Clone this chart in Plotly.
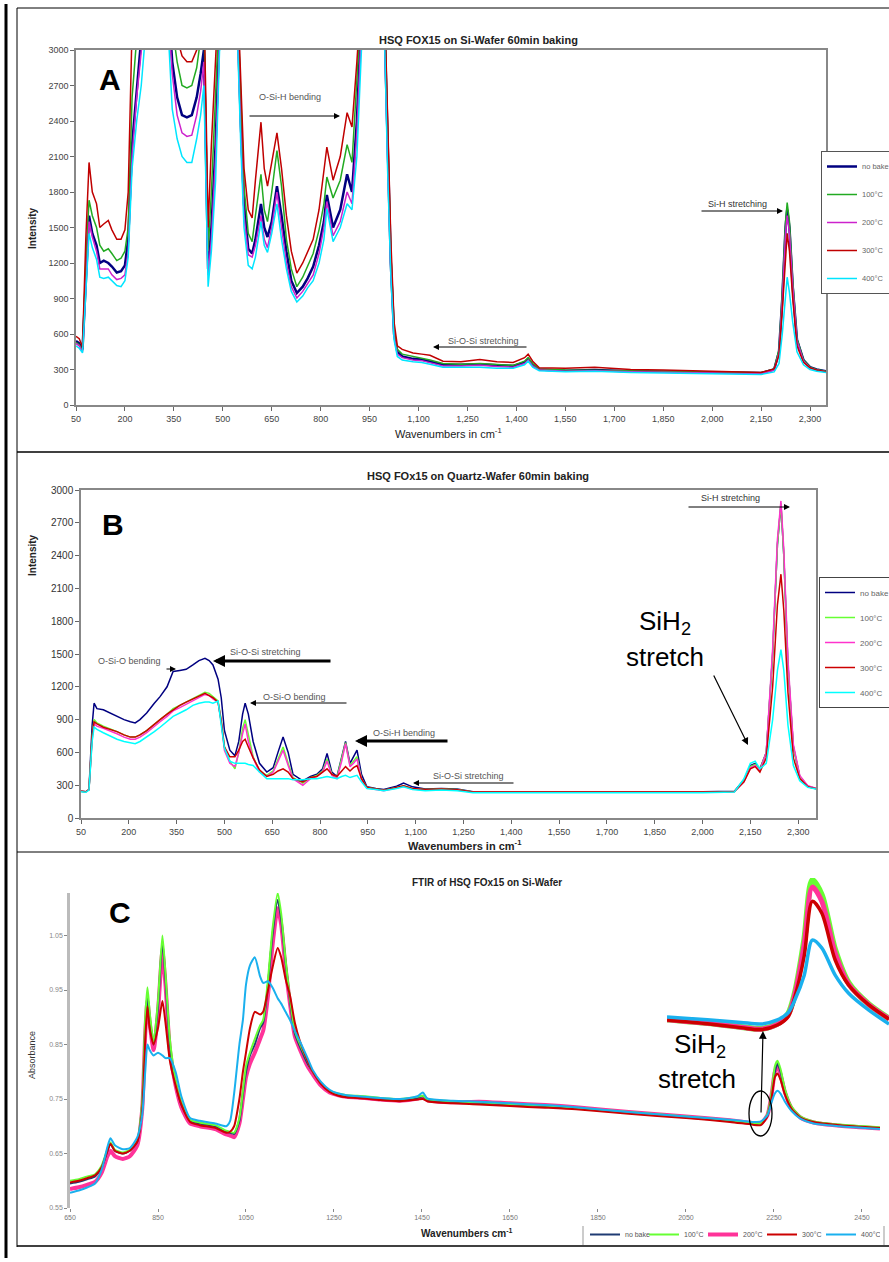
import plotly.graph_objects as go

W, H = 889, 1262

# ---------------- DATA ----------------
series_names = ["no bake", "100°C", "200°C", "300°C", "400°C"]

# Panel A : HSQ FOX15 on Si-Wafer (Raman intensity)
a_wn = [50, 60, 70, 80, 90, 100, 113, 123, 135, 149, 160, 175, 188, 200, 210, 222, 236, 250, 265, 330,
        345, 360, 375, 390, 405, 420, 432, 442, 448, 455, 465, 478, 490, 545, 555, 565, 578, 590, 600, 617,
        627, 637, 650, 666, 680, 695, 710, 727, 745, 760, 777, 795, 810, 819, 838, 860, 881, 896, 911, 925,
        995, 1005, 1015, 1025, 1035, 1050, 1083, 1110, 1135, 1175, 1230, 1288, 1340, 1390, 1425, 1436, 1450, 1470, 1550, 1640,
        1750, 1850, 1950, 2050, 2150, 2190, 2205, 2215, 2225, 2230, 2237, 2247, 2260, 2280, 2300, 2320, 2349]
a_nobake = [540, 520, 470, 1100, 1600, 1450, 1350, 1200, 1220, 1200, 1170, 1120, 1130, 1180, 1400, 2200, 2700, 3100, 3500, 3500,
            2900, 2600, 2450, 2430, 2450, 2600, 2800, 3000, 2200, 1150, 1500, 2200, 3200, 3300, 2400, 1700, 1320, 1280, 1400, 1700,
            1500, 1420, 1550, 1850, 1600, 1300, 1050, 946, 1000, 1070, 1170, 1350, 1550, 1775, 1500, 1650, 1950, 1800, 2400, 3300,
            3300, 2200, 1200, 600, 450, 410, 390, 385, 370, 340, 340, 345, 335, 330, 360, 390, 340, 300, 290, 295,
            285, 280, 275, 270, 270, 300, 450, 900, 1500, 1650, 1500, 1000, 550, 380, 320, 300, 285]
a_100 = [530, 510, 460, 1200, 1730, 1600, 1500, 1350, 1300, 1320, 1280, 1220, 1240, 1300, 1500, 2600, 3100, 3400, 3600, 3600,
         3200, 2900, 2700, 2680, 2700, 2850, 3100, 3300, 2400, 1300, 1800, 2500, 3400, 3400, 2600, 1850, 1450, 1380, 1600, 1950,
         1650, 1550, 1800, 2150, 1850, 1400, 1150, 1000, 1080, 1170, 1280, 1480, 1700, 1927, 1750, 1900, 2200, 2050, 2700, 3400,
         3400, 2300, 1300, 650, 470, 430, 410, 400, 380, 350, 345, 350, 340, 335, 370, 400, 350, 305, 295, 295,
         290, 285, 280, 275, 272, 305, 470, 950, 1550, 1710, 1550, 1050, 560, 380, 320, 300, 285]
a_200 = [520, 500, 450, 1050, 1550, 1420, 1300, 1150, 1150, 1150, 1100, 1060, 1070, 1100, 1300, 2100, 2600, 3000, 3400, 3400,
         2800, 2450, 2300, 2270, 2280, 2450, 2650, 2900, 2100, 1100, 1400, 2100, 3100, 3200, 2300, 1600, 1270, 1250, 1350, 1600,
         1400, 1330, 1500, 1800, 1500, 1200, 1000, 904, 960, 1030, 1100, 1280, 1500, 1720, 1430, 1550, 1800, 1700, 2300, 3200,
         3200, 2100, 1150, 580, 430, 400, 380, 375, 360, 330, 330, 335, 325, 320, 350, 380, 330, 295, 285, 290,
         280, 275, 270, 265, 265, 295, 440, 880, 1450, 1600, 1450, 1000, 540, 370, 315, 295, 280]
a_300 = [580, 560, 490, 1400, 2050, 1800, 1700, 1500, 1530, 1560, 1480, 1400, 1400, 1480, 1800, 3200, 3500, 3600, 3700, 3700,
         3400, 3100, 2950, 2900, 2900, 3000, 3300, 3400, 2600, 1500, 2200, 3000, 3600, 3500, 2800, 2000, 1650, 1580, 1900, 2390,
         2000, 1850, 2050, 2300, 2000, 1600, 1300, 1115, 1200, 1300, 1400, 1650, 2000, 2180, 1900, 2100, 2470, 2350, 2900, 3500,
         3500, 2400, 1400, 700, 500, 470, 440, 430, 420, 370, 365, 385, 365, 360, 400, 430, 370, 315, 310, 320,
         300, 295, 290, 280, 275, 305, 420, 800, 1300, 1450, 1300, 900, 500, 360, 315, 295, 280]
a_400 = [500, 480, 440, 1000, 1450, 1330, 1230, 1080, 1070, 1080, 1050, 1010, 1000, 1050, 1250, 2000, 2400, 2700, 3200, 3300,
         2500, 2250, 2100, 2050, 2050, 2250, 2450, 2700, 1900, 1000, 1300, 1900, 3000, 3100, 2200, 1500, 1180, 1150, 1250, 1550,
         1350, 1290, 1450, 1700, 1400, 1150, 960, 870, 920, 990, 1050, 1200, 1400, 1660, 1380, 1500, 1700, 1650, 2100, 3000,
         3200, 2000, 1100, 550, 410, 380, 365, 360, 345, 320, 320, 320, 310, 310, 340, 370, 320, 290, 280, 285,
         275, 270, 265, 260, 258, 280, 350, 600, 950, 1080, 950, 700, 450, 340, 300, 285, 275]

# Panel B : HSQ FOx15 on Quartz-Wafer (Raman intensity)
b_wn = [50, 65, 75, 85, 91, 100, 120, 140, 163, 185, 205, 220, 235, 256, 280, 298, 320, 339, 360, 380,
        401, 420, 439, 452, 464, 480, 490, 500, 517, 533, 545, 557, 565, 575, 590, 610, 633, 653, 668, 684,
        700, 715, 746, 770, 790, 808, 822, 837, 853, 868, 880, 894, 905, 916, 930, 947, 975, 1000, 1040, 1062,
        1090, 1130, 1180, 1230, 1280, 1400, 1550, 1700, 1850, 2000, 2100, 2130, 2150, 2165, 2180, 2200, 2220, 2235, 2246, 2255,
        2268, 2285, 2305, 2330, 2356]
b_nobake = [245, 240, 260, 850, 1050, 1000, 990, 960, 930, 900, 880, 870, 900, 960, 1050, 1110, 1200, 1340, 1350, 1360,
            1400, 1440, 1460, 1440, 1400, 1270, 1100, 800, 620, 570, 700, 950, 1050, 950, 700, 500, 420, 460, 600, 740,
            600, 400, 340, 380, 400, 450, 590, 420, 380, 550, 700, 500, 560, 620, 400, 285, 270, 260, 290, 320,
            285, 265, 270, 265, 240, 240, 238, 240, 238, 240, 245, 350, 480, 500, 450, 600, 1500, 2500, 2870, 2400,
            1400, 650, 380, 290, 270]
b_100 = [245, 240, 260, 750, 900, 870, 840, 820, 790, 760, 740, 740, 760, 800, 860, 900, 950, 1000, 1030, 1060,
         1090, 1120, 1150, 1140, 1110, 1070, 900, 650, 520, 450, 600, 820, 900, 750, 560, 430, 390, 430, 540, 650,
         500, 370, 320, 370, 390, 430, 540, 400, 370, 540, 690, 480, 520, 560, 360, 280, 265, 255, 280, 295,
         270, 260, 265, 260, 238, 238, 236, 238, 236, 238, 243, 340, 470, 490, 440, 600, 1500, 2500, 2880, 2400,
         1400, 650, 380, 290, 270]
b_200 = [245, 240, 260, 720, 860, 840, 820, 800, 770, 740, 720, 720, 740, 780, 840, 880, 930, 980, 1010, 1040,
         1070, 1100, 1130, 1120, 1090, 1060, 880, 620, 500, 470, 600, 770, 860, 700, 550, 420, 380, 420, 520, 620,
         480, 360, 300, 360, 380, 420, 520, 390, 360, 520, 680, 470, 500, 540, 350, 275, 260, 250, 275, 290,
         265, 255, 260, 255, 235, 235, 233, 235, 233, 235, 240, 330, 460, 480, 430, 600, 1550, 2550, 2900, 2450,
         1450, 670, 390, 295, 272]
b_300 = [245, 240, 260, 750, 880, 860, 830, 810, 790, 760, 740, 740, 760, 800, 860, 900, 950, 990, 1030, 1060,
         1090, 1120, 1140, 1120, 1100, 1060, 880, 650, 560, 560, 620, 700, 720, 650, 550, 440, 380, 400, 430, 450,
         420, 360, 330, 370, 380, 420, 450, 400, 380, 430, 470, 430, 460, 480, 360, 280, 265, 255, 280, 295,
         270, 260, 265, 258, 238, 238, 236, 238, 236, 238, 243, 330, 450, 470, 420, 550, 1200, 1950, 2230, 1900,
         1150, 550, 360, 285, 268]
b_400 = [240, 235, 255, 700, 830, 810, 780, 750, 720, 700, 690, 680, 700, 740, 790, 830, 880, 930, 960, 990,
         1030, 1050, 1060, 1060, 1050, 1070, 850, 640, 520, 500, 500, 500, 500, 490, 480, 420, 360, 360, 360, 360,
         360, 350, 350, 360, 360, 370, 380, 370, 360, 380, 390, 370, 380, 390, 330, 270, 260, 250, 270, 285,
         260, 250, 255, 250, 232, 232, 230, 232, 230, 232, 238, 360, 500, 520, 450, 500, 900, 1350, 1540, 1350,
         850, 480, 340, 280, 265]

# Panel C : FTIR of HSQ FOx15 on Si-Wafer (absorbance)
c_wn = [650, 670, 690, 707, 722, 735, 742, 752, 770, 786, 803, 814, 821, 826, 831, 840, 850, 860, 867, 877,
        890, 903, 923, 945, 980, 1005, 1014, 1023, 1035, 1043, 1050, 1059, 1070, 1082, 1089, 1100, 1110, 1122, 1130, 1140,
        1150, 1161, 1173, 1190, 1202, 1220, 1240, 1260, 1279, 1320, 1355, 1400, 1440, 1452, 1462, 1520, 1580, 1650, 1730, 1800,
        1920, 2050, 2150, 2200, 2220, 2235, 2245, 2252, 2258, 2265, 2275, 2290, 2310, 2340, 2400, 2491]
c_nobake = [0.595, 0.598, 0.603, 0.608, 0.625, 0.655, 0.668, 0.655, 0.650, 0.655, 0.672, 0.74, 0.88, 0.94, 0.90, 0.85, 0.92, 1.04, 0.97, 0.85,
            0.78, 0.74, 0.71, 0.705, 0.70, 0.69, 0.688, 0.686, 0.71, 0.76, 0.80, 0.83, 0.85, 0.88, 0.89, 0.96, 1.05, 1.115, 1.08, 1.00,
            0.93, 0.87, 0.845, 0.815, 0.80, 0.78, 0.765, 0.758, 0.755, 0.753, 0.750, 0.748, 0.752, 0.755, 0.749, 0.745, 0.743, 0.740, 0.737, 0.733,
            0.725, 0.717, 0.710, 0.705, 0.704, 0.72, 0.76, 0.80, 0.815, 0.80, 0.765, 0.735, 0.717, 0.708, 0.702, 0.697]
c_100 = [0.600, 0.603, 0.608, 0.612, 0.628, 0.658, 0.670, 0.657, 0.652, 0.657, 0.675, 0.745, 0.90, 0.955, 0.91, 0.855, 0.93, 1.05, 0.98, 0.86,
         0.785, 0.745, 0.712, 0.707, 0.702, 0.692, 0.69, 0.688, 0.715, 0.765, 0.81, 0.835, 0.86, 0.885, 0.895, 0.97, 1.06, 1.128, 1.09, 1.005,
         0.935, 0.875, 0.85, 0.82, 0.80, 0.78, 0.765, 0.76, 0.757, 0.755, 0.752, 0.75, 0.754, 0.756, 0.75, 0.746, 0.744, 0.741, 0.738, 0.734,
         0.726, 0.718, 0.711, 0.706, 0.705, 0.722, 0.765, 0.81, 0.82, 0.805, 0.768, 0.736, 0.718, 0.709, 0.703, 0.698]
c_200 = [0.585, 0.588, 0.593, 0.598, 0.615, 0.645, 0.655, 0.645, 0.640, 0.645, 0.665, 0.73, 0.87, 0.93, 0.89, 0.84, 0.91, 1.02, 0.96, 0.84,
         0.775, 0.735, 0.705, 0.70, 0.695, 0.685, 0.683, 0.680, 0.705, 0.75, 0.79, 0.815, 0.835, 0.86, 0.875, 0.94, 1.03, 1.10, 1.07, 0.99,
         0.925, 0.865, 0.84, 0.81, 0.795, 0.775, 0.762, 0.757, 0.754, 0.752, 0.749, 0.747, 0.751, 0.754, 0.748, 0.744, 0.745, 0.742, 0.739, 0.735,
         0.726, 0.718, 0.711, 0.706, 0.705, 0.72, 0.76, 0.80, 0.81, 0.795, 0.762, 0.733, 0.716, 0.707, 0.701, 0.696]
c_300 = [0.597, 0.600, 0.605, 0.610, 0.625, 0.655, 0.668, 0.655, 0.650, 0.655, 0.672, 0.73, 0.86, 0.92, 0.88, 0.85, 0.88, 0.93, 0.89, 0.82,
         0.775, 0.74, 0.708, 0.702, 0.697, 0.688, 0.69, 0.70, 0.75, 0.80, 0.835, 0.88, 0.91, 0.905, 0.91, 0.95, 0.99, 1.027, 1.01, 0.97,
         0.94, 0.89, 0.855, 0.82, 0.80, 0.778, 0.763, 0.756, 0.753, 0.751, 0.748, 0.746, 0.749, 0.750, 0.746, 0.742, 0.740, 0.737, 0.734, 0.731,
         0.723, 0.715, 0.708, 0.703, 0.702, 0.718, 0.755, 0.79, 0.797, 0.785, 0.758, 0.732, 0.716, 0.708, 0.702, 0.697]
c_400 = [0.578, 0.582, 0.588, 0.595, 0.62, 0.662, 0.678, 0.665, 0.658, 0.66, 0.68, 0.72, 0.80, 0.85, 0.84, 0.83, 0.835, 0.83, 0.825, 0.825,
         0.80, 0.755, 0.715, 0.71, 0.705, 0.70, 0.71, 0.76, 0.85, 0.895, 0.96, 0.995, 1.010, 0.975, 0.963, 0.966, 0.955, 0.935, 0.925, 0.91,
         0.895, 0.875, 0.855, 0.825, 0.803, 0.782, 0.767, 0.760, 0.757, 0.754, 0.752, 0.750, 0.755, 0.762, 0.751, 0.747, 0.745, 0.742, 0.739, 0.735,
         0.726, 0.718, 0.712, 0.708, 0.709, 0.72, 0.745, 0.76, 0.765, 0.76, 0.745, 0.728, 0.714, 0.705, 0.700, 0.695]

# Panel C inset : magnified Si-H region
inset_wn = [2150, 2180, 2205, 2220, 2232, 2240, 2245, 2252, 2258, 2265, 2275, 2285, 2300, 2315]
inset_100 = [0.7078, 0.7050, 0.7020, 0.7005, 0.7045, 0.712, 0.728, 0.769, 0.8154, 0.804, 0.7614, 0.736, 0.7195, 0.7085]
inset_200 = [0.7076, 0.7048, 0.7018, 0.7003, 0.7040, 0.711, 0.727, 0.766, 0.810, 0.799, 0.759, 0.735, 0.7193, 0.7083]
inset_300 = [0.7074, 0.7045, 0.7015, 0.7000, 0.7035, 0.710, 0.725, 0.757, 0.799, 0.790, 0.7537, 0.7344, 0.719, 0.708]
inset_400 = [0.7097, 0.7075, 0.7055, 0.7043, 0.7074, 0.713, 0.7228, 0.742, 0.769, 0.763, 0.742, 0.728, 0.715, 0.7043]

# Tick labels
ab_xticks = [50, 200, 350, 500, 650, 800, 950, 1100, 1250, 1400, 1550, 1700, 1850, 2000, 2150, 2300]
ab_xticklabels = ["50", "200", "350", "500", "650", "800", "950", "1,100", "1,250", "1,400", "1,550",
                  "1,700", "1,850", "2,000", "2,150", "2,300"]
ab_yticks = [0, 300, 600, 900, 1200, 1500, 1800, 2100, 2400, 2700, 3000]
c_xticks = [650, 850, 1050, 1250, 1450, 1650, 1850, 2050, 2250, 2450]
c_yticks = [0.55, 0.65, 0.75, 0.85, 0.95, 1.05]
c_yticklabels = ["0.55", "0.65", "0.75", "0.85", "0.95", "1.05"]

# ---------------- HELPERS ----------------
def PX(x):
    return x / W

def PY(y):
    return 1 - y / H

NARROW = "Liberation Sans Narrow, Liberation Sans, Arial"
SANS = "Liberation Sans, Arial"

colors_a = ["#000080", "#22aa22", "#cc22cc", "#c00000", "#00e5ff"]
colors_b = ["#000080", "#66ff33", "#ff33cc", "#cc0000", "#00ffff"]
colors_c = ["#1f3b73", "#66ff33", "#ff3399", "#cc0000", "#1ab0ee"]

fig = go.Figure()

a_series = [a_nobake, a_100, a_200, a_300, a_400]
for i, ys in enumerate(a_series):
    fig.add_trace(go.Scatter(x=a_wn, y=ys, mode="lines", name=series_names[i],
                             line=dict(color=colors_a[i], width=2.5 if i == 0 else 1.5),
                             xaxis="x", yaxis="y", legend="legend", legendgroup="A%d" % i))

b_series = [b_nobake, b_100, b_200, b_300, b_400]
for i, ys in enumerate(b_series):
    fig.add_trace(go.Scatter(x=b_wn, y=ys, mode="lines", name=series_names[i],
                             line=dict(color=colors_b[i], width=1.5),
                             xaxis="x2", yaxis="y2", legend="legend2", legendgroup="B%d" % i))

c_series = [c_nobake, c_100, c_200, c_300, c_400]
c_widths = [2, 2, 4, 2, 2]
c_order = [2, 0, 1, 3, 4]
for i in c_order:
    fig.add_trace(go.Scatter(x=c_wn, y=c_series[i], mode="lines", name=series_names[i],
                             line=dict(color=colors_c[i], width=c_widths[i], shape="spline", smoothing=0.6),
                             xaxis="x3", yaxis="y3", legend="legend3", legendrank=i + 1))

inset_series = [(inset_100, 1, 6), (inset_200, 2, 5), (inset_300, 3, 3.5), (inset_400, 4, 3.5)]
for ys, ci, w in inset_series:
    fig.add_trace(go.Scatter(x=inset_wn, y=ys, mode="lines", showlegend=False,
                             line=dict(color=colors_c[ci], width=w, shape="spline", smoothing=0.8),
                             xaxis="x4", yaxis="y4", hoverinfo="skip"))

axis_common = dict(showgrid=False, zeroline=False, ticks="outside", ticklen=4, tickcolor="#666",
                   showline=True, linecolor="#888", linewidth=1.5, mirror=True)

fig.update_layout(
    width=W, height=H, margin=dict(l=0, r=0, t=0, b=0, autoexpand=False),
    paper_bgcolor="white", plot_bgcolor="rgba(0,0,0,0)",
    font=dict(family=SANS, color="#333"),
    xaxis=dict(domain=[PX(76), PX(826)], range=[50, 2349], anchor="y",
               tickvals=ab_xticks, ticktext=ab_xticklabels,
               tickfont=dict(family=NARROW, size=9, color="#444"), **axis_common),
    yaxis=dict(domain=[PY(405), PY(50)], range=[0, 3000], anchor="x",
               tickvals=ab_yticks, tickfont=dict(family=NARROW, size=9, color="#444"), **axis_common),
    xaxis2=dict(domain=[PX(81), PX(816)], range=[50, 2356], anchor="y2",
                tickvals=ab_xticks, ticktext=ab_xticklabels,
                tickfont=dict(family=NARROW, size=9, color="#444"), **axis_common),
    yaxis2=dict(domain=[PY(818), PY(490)], range=[0, 3000], anchor="x2",
                tickvals=ab_yticks, tickfont=dict(family=SANS, size=10, color="#333"), **axis_common),
    xaxis3=dict(domain=[PX(70), PX(880)], range=[650, 2491], anchor="y3",
                tickvals=c_xticks, tickfont=dict(family=SANS, size=7, color="#777"),
                showgrid=False, zeroline=False, ticks="outside", ticklen=3, tickcolor="#888", showline=False),
    yaxis3=dict(domain=[PY(1208), PY(893)], range=[0.55, 1.128], anchor="x3",
                tickvals=c_yticks, ticktext=c_yticklabels, tickfont=dict(family=SANS, size=7, color="#888"),
                showgrid=False, zeroline=False, ticks="outside", ticklen=3, tickcolor="#888",
                showline=True, linecolor="#bbb", linewidth=2.5),
    xaxis4=dict(domain=[PX(667), 1.0], range=[2150, 2315], anchor="y4", visible=False),
    yaxis4=dict(domain=[PY(1035), PY(878)], range=[0.6958, 0.817], anchor="x4", visible=False),
    legend=dict(x=PX(821), y=PY(151), xanchor="left", yanchor="top", bgcolor="white",
                bordercolor="#555", borderwidth=1, font=dict(family=NARROW, size=7.5, color="#666"),
                traceorder="grouped", tracegroupgap=9, itemwidth=30),
    legend2=dict(x=PX(819), y=PY(577), xanchor="left", yanchor="top", bgcolor="white",
                 bordercolor="#444", borderwidth=1, font=dict(family=NARROW, size=8, color="#666"),
                 traceorder="grouped", tracegroupgap=6, itemwidth=30),
    legend3=dict(x=PX(585), y=PY(1220), xanchor="left", yanchor="top", orientation="h",
                 bgcolor="rgba(0,0,0,0)", borderwidth=0, font=dict(family=SANS, size=7, color="#555"),
                 itemwidth=30, entrywidth=14, entrywidthmode="pixels"),
)

annotations = []

def text(t, x, y, size=9, color="#444", bold=False, family=SANS, angle=0, xanchor="center"):
    annotations.append(dict(text=("<b>%s</b>" % t) if bold else t, x=PX(x), y=PY(y), xref="paper", yref="paper",
                            showarrow=False, xanchor=xanchor, yanchor="middle", textangle=angle,
                            font=dict(size=size, color=color, family=family)))

def arrow(x0, y0, x1, y1, width=1, size=1.0):
    annotations.append(dict(text="", x=PX(x1), y=PY(y1), xref="paper", yref="paper",
                            ax=x0 - x1, ay=y0 - y1, axref="pixel", ayref="pixel",
                            showarrow=True, arrowhead=2, arrowsize=size, arrowwidth=width,
                            arrowcolor="black", standoff=0, startstandoff=0))

# Titles
text("HSQ FOX15 on Si-Wafer 60min baking", 478, 40, 11, "#222", True)
text("HSQ FOx15 on Quartz-Wafer 60min baking", 478, 476, 11, "#222", True)
text("FTIR of HSQ FOx15 on Si-Wafer", 487, 882, 10, "#222", True)
# Panel letters
text("A", 110, 80, 30, "black", True)
text("B", 113, 525, 30, "black", True)
text("C", 120, 912, 30, "black", True)
# Axis titles
text("Intensity", 33, 228, 10, "#222", True, angle=-90)
text("Wavenumbers in cm<sup>-1</sup>", 449, 433, 11, "#222", False, family=NARROW)
text("Intensity", 33, 555, 10, "#222", True, angle=-90)
text("Wavenumbers in cm<sup>-1</sup>", 465, 845, 11, "#222", True, family=NARROW)
text("Absorbance", 32, 1055, 9, "#333", False, angle=-90)
text("Wavenumbers cm<sup>-1</sup>", 467, 1233, 10, "#222", True)

# Panel A annotations
text("O-Si-H bending", 290, 97, 9, "#555")
arrow(248, 116, 340, 116, 1, 1.2)
text("Si-O-Si stretching", 483, 341, 9, "#555")
arrow(528, 347, 433, 347, 1, 1.2)
text("Si-H stretching", 737, 204, 9, "#333")
arrow(700, 211, 783, 211, 1, 1.2)

# Panel B annotations
text("Si-H stretching", 730, 498, 9, "#333")
arrow(687, 507, 790, 507, 1, 1.2)
text("SiH<sub>2</sub>", 665, 622, 26, "black")
text("stretch", 665, 657, 26, "black")
arrow(713, 674, 748, 745, 1.2, 1.2)
text("O-Si-O bending", 129, 661, 9, "#555")
arrow(165, 669, 176, 669, 1, 1.2)
text("Si-O-Si stretching", 265, 652, 9, "#555")
arrow(332, 661, 213, 661, 3, 0.8)
text("O-Si-O bending", 294, 697, 9, "#555")
arrow(348, 703, 250, 703, 1, 1.2)
text("O-Si-H bending", 404, 733, 9, "#555")
arrow(449, 741, 355, 741, 3, 0.8)
text("Si-O-Si stretching", 468, 776, 9, "#555")
arrow(515, 783, 413, 783, 1, 1.2)

# Panel C annotations
text("SiH<sub>2</sub>", 700, 1045, 26, "black")
text("stretch", 697, 1079, 26, "black")
arrow(761, 1114, 763, 1031, 1.2, 1.3)

fig.update_layout(annotations=annotations)

def hline(y, x0, x1, w=1, c="black"):
    return dict(type="line", xref="paper", yref="paper", x0=PX(x0), x1=PX(x1), y0=PY(y), y1=PY(y),
                line=dict(color=c, width=w))

def vline(x, y0, y1, w=1, c="black"):
    return dict(type="line", xref="paper", yref="paper", x0=PX(x), x1=PX(x), y0=PY(y0), y1=PY(y1),
                line=dict(color=c, width=w))

shapes = [
    vline(6, 4, 1258, 3),
    vline(17, 8, 1247, 1),
    hline(8, 17, 889, 1),
    hline(452, 17, 889, 1.5),
    hline(852, 17, 889, 1),
    hline(1246, 17, 889, 1.5),
    vline(583, 1226, 1245, 1, "#999"),
    vline(884, 1226, 1245, 1, "#999"),
    dict(type="circle", xref="paper", yref="paper", x0=PX(749), x1=PX(772), y0=PY(1136), y1=PY(1091),
         line=dict(color="black", width=1.3)),
]
fig.update_layout(shapes=shapes)

fig.write_html("out.html", config={"displayModeBar": False},
               post_script="document.body.style.margin='0px';document.body.style.padding='0px';"
                           "document.documentElement.style.overflow='hidden';")
